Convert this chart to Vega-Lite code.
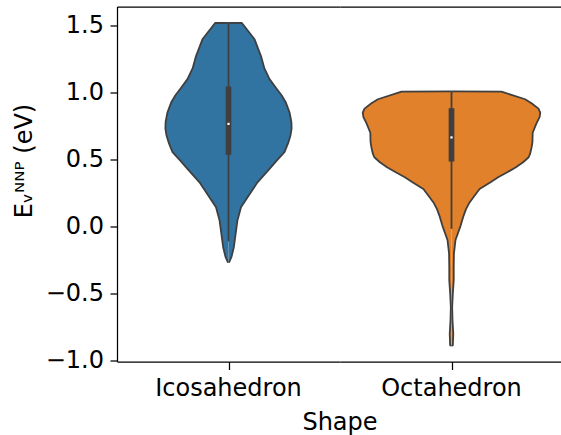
{
  "$schema": "https://vega.github.io/schema/vega-lite/v6.json",
  "padding": {"left": 12, "top": 6.5, "right": 0, "bottom": 0},
  "background": "white",
  "config": {
    "view": {"stroke": null},
    "font": "DejaVu Sans",
    "axis": {"grid": false, "domainColor": "#000", "domainWidth": 1.25, "tickColor": "#000", "tickWidth": 1.25, "labelFont": "DejaVu Sans", "labelFontSize": 24, "labelColor": "#000", "titleFont": "DejaVu Sans", "titleFontSize": 24, "titleFontWeight": "normal", "titleColor": "#000"},
    "header": {"labelFont": "DejaVu Sans", "labelFontSize": 24, "labelColor": "#000", "titleFont": "DejaVu Sans", "titleFontSize": 24, "titleFontWeight": "normal", "titleColor": "#000", "labelOrient": "bottom", "titleOrient": "bottom", "labelPadding": 6, "titlePadding": 0}
  },
  "data": {"values": [
    {"shape": "Icosahedron", "kind": "v", "i": 0, "E": -0.266, "w": 0},
    {"shape": "Icosahedron", "kind": "v", "i": 1, "E": -0.265, "w": 0.003},
    {"shape": "Icosahedron", "kind": "v", "i": 2, "E": -0.229, "w": 0.013},
    {"shape": "Icosahedron", "kind": "v", "i": 3, "E": -0.154, "w": 0.024},
    {"shape": "Icosahedron", "kind": "v", "i": 4, "E": -0.055, "w": 0.032},
    {"shape": "Icosahedron", "kind": "v", "i": 5, "E": 0.045, "w": 0.040},
    {"shape": "Icosahedron", "kind": "v", "i": 6, "E": 0.144, "w": 0.056},
    {"shape": "Icosahedron", "kind": "v", "i": 7, "E": 0.23, "w": 0.090},
    {"shape": "Icosahedron", "kind": "v", "i": 8, "E": 0.33, "w": 0.130},
    {"shape": "Icosahedron", "kind": "v", "i": 9, "E": 0.37, "w": 0.152},
    {"shape": "Icosahedron", "kind": "v", "i": 10, "E": 0.43, "w": 0.184},
    {"shape": "Icosahedron", "kind": "v", "i": 11, "E": 0.49, "w": 0.215},
    {"shape": "Icosahedron", "kind": "v", "i": 12, "E": 0.555, "w": 0.251},
    {"shape": "Icosahedron", "kind": "v", "i": 13, "E": 0.62, "w": 0.267},
    {"shape": "Icosahedron", "kind": "v", "i": 14, "E": 0.68, "w": 0.278},
    {"shape": "Icosahedron", "kind": "v", "i": 15, "E": 0.73, "w": 0.283},
    {"shape": "Icosahedron", "kind": "v", "i": 16, "E": 0.78, "w": 0.282},
    {"shape": "Icosahedron", "kind": "v", "i": 17, "E": 0.85, "w": 0.274},
    {"shape": "Icosahedron", "kind": "v", "i": 18, "E": 0.93, "w": 0.256},
    {"shape": "Icosahedron", "kind": "v", "i": 19, "E": 0.98, "w": 0.238},
    {"shape": "Icosahedron", "kind": "v", "i": 20, "E": 1.03, "w": 0.215},
    {"shape": "Icosahedron", "kind": "v", "i": 21, "E": 1.10, "w": 0.184},
    {"shape": "Icosahedron", "kind": "v", "i": 22, "E": 1.18, "w": 0.161},
    {"shape": "Icosahedron", "kind": "v", "i": 23, "E": 1.27, "w": 0.146},
    {"shape": "Icosahedron", "kind": "v", "i": 24, "E": 1.40, "w": 0.116},
    {"shape": "Icosahedron", "kind": "v", "i": 25, "E": 1.519, "w": 0.060},
    {"shape": "Icosahedron", "kind": "v", "i": 26, "E": 1.52, "w": 0},
    {"shape": "Octahedron", "kind": "v", "i": 0, "E": -0.888, "w": 0},
    {"shape": "Octahedron", "kind": "v", "i": 1, "E": -0.887, "w": 0.006},
    {"shape": "Octahedron", "kind": "v", "i": 2, "E": -0.80, "w": 0.008},
    {"shape": "Octahedron", "kind": "v", "i": 3, "E": -0.70, "w": 0.0045},
    {"shape": "Octahedron", "kind": "v", "i": 4, "E": -0.60, "w": 0.003},
    {"shape": "Octahedron", "kind": "v", "i": 5, "E": -0.50, "w": 0.006},
    {"shape": "Octahedron", "kind": "v", "i": 6, "E": -0.40, "w": 0.010},
    {"shape": "Octahedron", "kind": "v", "i": 7, "E": -0.30, "w": 0.010},
    {"shape": "Octahedron", "kind": "v", "i": 8, "E": -0.20, "w": 0.011},
    {"shape": "Octahedron", "kind": "v", "i": 9, "E": -0.10, "w": 0.018},
    {"shape": "Octahedron", "kind": "v", "i": 10, "E": 0.007, "w": 0.041},
    {"shape": "Octahedron", "kind": "v", "i": 11, "E": 0.08, "w": 0.054},
    {"shape": "Octahedron", "kind": "v", "i": 12, "E": 0.13, "w": 0.065},
    {"shape": "Octahedron", "kind": "v", "i": 13, "E": 0.18, "w": 0.081},
    {"shape": "Octahedron", "kind": "v", "i": 14, "E": 0.22, "w": 0.099},
    {"shape": "Octahedron", "kind": "v", "i": 15, "E": 0.28, "w": 0.126},
    {"shape": "Octahedron", "kind": "v", "i": 16, "E": 0.331, "w": 0.175},
    {"shape": "Octahedron", "kind": "v", "i": 17, "E": 0.368, "w": 0.209},
    {"shape": "Octahedron", "kind": "v", "i": 18, "E": 0.405, "w": 0.250},
    {"shape": "Octahedron", "kind": "v", "i": 19, "E": 0.443, "w": 0.289},
    {"shape": "Octahedron", "kind": "v", "i": 20, "E": 0.48, "w": 0.321},
    {"shape": "Octahedron", "kind": "v", "i": 21, "E": 0.517, "w": 0.346},
    {"shape": "Octahedron", "kind": "v", "i": 22, "E": 0.54, "w": 0.352},
    {"shape": "Octahedron", "kind": "v", "i": 23, "E": 0.59, "w": 0.359},
    {"shape": "Octahedron", "kind": "v", "i": 24, "E": 0.63, "w": 0.363},
    {"shape": "Octahedron", "kind": "v", "i": 25, "E": 0.70, "w": 0.364},
    {"shape": "Octahedron", "kind": "v", "i": 26, "E": 0.77, "w": 0.381},
    {"shape": "Octahedron", "kind": "v", "i": 27, "E": 0.816, "w": 0.395},
    {"shape": "Octahedron", "kind": "v", "i": 28, "E": 0.85, "w": 0.398},
    {"shape": "Octahedron", "kind": "v", "i": 29, "E": 0.88, "w": 0.390},
    {"shape": "Octahedron", "kind": "v", "i": 30, "E": 0.92, "w": 0.359},
    {"shape": "Octahedron", "kind": "v", "i": 31, "E": 0.95, "w": 0.330},
    {"shape": "Octahedron", "kind": "v", "i": 32, "E": 1.007, "w": 0.224},
    {"shape": "Octahedron", "kind": "v", "i": 33, "E": 1.008, "w": 0},
    {"shape": "Icosahedron", "kind": "b", "lo": -0.11, "q1": 0.535, "med": 0.766, "q3": 1.045, "hi": 1.52},
    {"shape": "Octahedron", "kind": "b", "lo": -0.017, "q1": 0.485, "med": 0.665, "q3": 0.883, "hi": 1.008}
  ]},
  "facet": {"column": {"field": "shape", "type": "nominal", "title": "Shape", "sort": ["Icosahedron", "Octahedron"]}},
  "spacing": 0,
  "resolve": {"scale": {"x": "independent"}},
  "spec": {
    "width": 223,
    "height": 355,
    "resolve": {"scale": {"x": "independent"}},
    "layer": [
      {
        "layer": [
          {
            "transform": [{"filter": "datum.kind == 'v'"}],
            "mark": {"type": "area", "orient": "horizontal", "opacity": 1},
            "encoding": {
              "y": {"field": "E", "type": "quantitative", "title": "Eᵥᴺᴺᴾ (eV)", "scale": {"domain": [-1.007, 1.642], "nice": false, "zero": false}, "axis": {"values": [-1, -0.5, 0, 0.5, 1, 1.5], "format": ".1f", "tickSize": 7, "labelPadding": 6.5, "titleX": -85.5, "titleY": 154, "titleBaseline": "alphabetic", "titleAngle": -90}},
              "x": {"field": "w", "type": "quantitative", "stack": null, "scale": {"domain": [-0.5, 0.5], "reverse": true}, "axis": {"orient": "top", "ticks": false, "labels": false, "title": null}},
              "x2": {"datum": 0},
              "color": {"field": "shape", "type": "nominal", "scale": {"domain": ["Icosahedron", "Octahedron"], "range": ["#3274a1", "#e1812c"]}, "legend": null}
            }
          },
          {
            "transform": [{"filter": "datum.kind == 'v'"}],
            "mark": {"type": "line", "color": "#3f3f3f", "strokeWidth": 1.8, "strokeJoin": "round"},
            "encoding": {
              "y": {"field": "E", "type": "quantitative", "title": "Eᵥᴺᴺᴾ (eV)"},
              "x": {"field": "w", "type": "quantitative", "scale": {"domain": [-0.5, 0.5], "reverse": true}},
              "order": {"field": "i", "type": "quantitative"}
            }
          }
        ]
      },
      {
        "layer": [
          {
            "transform": [{"filter": "datum.kind == 'v'"}],
            "mark": {"type": "area", "orient": "horizontal", "opacity": 1},
            "encoding": {
              "y": {"field": "E", "type": "quantitative", "title": "Eᵥᴺᴺᴾ (eV)"},
              "x": {"field": "w", "type": "quantitative", "stack": null, "scale": {"domain": [-0.5, 0.5]}, "axis": {"orient": "bottom", "values": [0], "labels": false, "title": null, "tickSize": 8}},
              "x2": {"datum": 0},
              "color": {"field": "shape", "type": "nominal", "legend": null}
            }
          },
          {
            "transform": [{"filter": "datum.kind == 'v'"}],
            "mark": {"type": "line", "color": "#3f3f3f", "strokeWidth": 1.8, "strokeJoin": "round"},
            "encoding": {
              "y": {"field": "E", "type": "quantitative", "title": "Eᵥᴺᴺᴾ (eV)"},
              "x": {"field": "w", "type": "quantitative", "scale": {"domain": [-0.5, 0.5]}},
              "order": {"field": "i", "type": "quantitative"}
            }
          },
          {
            "transform": [{"filter": "datum.kind == 'b'"}],
            "mark": {"type": "rule", "color": "#3f3f3f", "strokeWidth": 1.8},
            "encoding": {
              "y": {"field": "lo", "type": "quantitative", "title": "Eᵥᴺᴺᴾ (eV)"},
              "y2": {"field": "hi"},
              "x": {"datum": 0, "type": "quantitative", "scale": {"domain": [-0.5, 0.5]}}
            }
          },
          {
            "transform": [{"filter": "datum.kind == 'b'"}],
            "mark": {"type": "rule", "color": "#3f3f3f", "strokeWidth": 5.7},
            "encoding": {
              "y": {"field": "q1", "type": "quantitative", "title": "Eᵥᴺᴺᴾ (eV)"},
              "y2": {"field": "q3"},
              "x": {"datum": 0, "type": "quantitative", "scale": {"domain": [-0.5, 0.5]}}
            }
          },
          {
            "transform": [{"filter": "datum.kind == 'b'"}],
            "mark": {"type": "point", "shape": "square", "size": 5, "filled": true, "color": "white", "opacity": 1, "strokeWidth": 0},
            "encoding": {
              "y": {"field": "med", "type": "quantitative", "title": "Eᵥᴺᴺᴾ (eV)"},
              "x": {"datum": 0, "type": "quantitative", "scale": {"domain": [-0.5, 0.5]}}
            }
          }
        ]
      }
    ]
  }
}
